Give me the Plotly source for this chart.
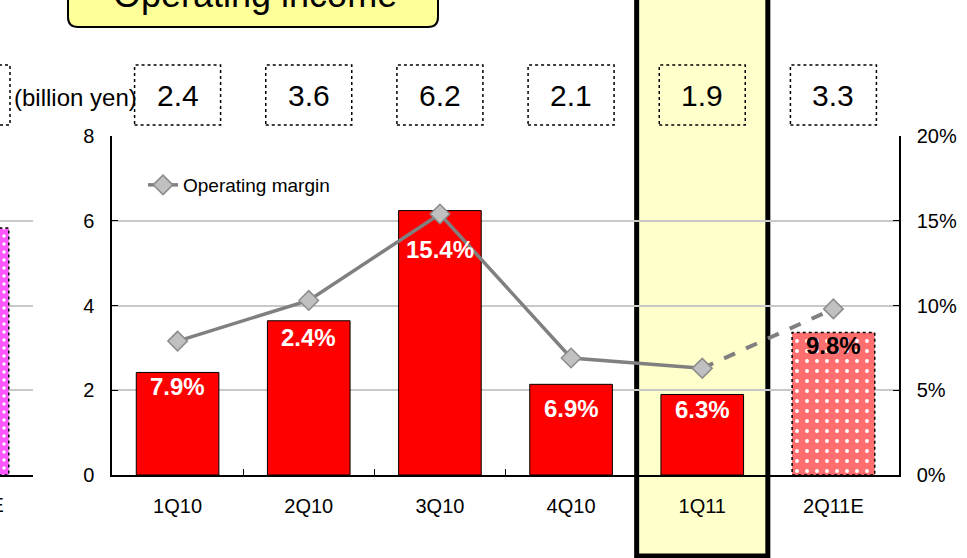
import plotly.graph_objects as go

# ---------------- data ----------------
categories = ["1Q10", "2Q10", "3Q10", "4Q10", "1Q11", "2Q11E"]
income = [2.42, 3.64, 6.24, 2.14, 1.90, 3.36]          # billion yen (bars)
income_labels = ["2.4", "3.6", "6.2", "2.1", "1.9", "3.3"]  # boxed values
margin = [0.079, 0.103, 0.154, 0.069, 0.063, 0.098]     # operating margin
margin_labels = ["7.9%", "2.4%", "15.4%", "6.9%", "6.3%", "9.8%"]
highlight = "1Q11"
estimate = "2Q11E"
prev_fragment_value = 5.83   # neighbouring chart fragment at left edge

W, H = 967, 558
FONT = "Liberation Sans, Arial, sans-serif"

# plot area in pixels
PX_L, PX_R, PY_T, PY_B = 112, 899, 136, 475
n = len(categories)
cw = (PX_R - PX_L) / n
label_drop = [14, 17, 39, 24, 15, 13]   # px from bar top to label centre


def xp(px):
    return px / W


def yp(py):
    return (H - py) / H


def cat_px(i):
    return PX_L + (i + 0.5) * cw


est_i = categories.index(estimate)
hi_i = categories.index(highlight)

fig = go.Figure()

actual_x = [c for c in categories if c != estimate]
actual_y = [v for c, v in zip(categories, income) if c != estimate]
txt_colors = ["white"] * n
txt_colors[est_i] = "black"

# actual results (solid red bars)
fig.add_trace(go.Bar(
    x=actual_x, y=actual_y, width=0.63,
    marker=dict(color="#FF0000", line=dict(color="black", width=1)),
    showlegend=False, xaxis="x", yaxis="y", hoverinfo="skip",
))
# estimate (patterned bar)
fig.add_trace(go.Bar(
    x=[estimate], y=[income[est_i]], width=0.63,
    marker=dict(color="#FF6E6E", line=dict(width=0),
                pattern=dict(shape=".", fgcolor="#FFFFFF", bgcolor="#FF6E6E",
                             size=10, solidity=0.12, fillmode="replace")),
    showlegend=False, xaxis="x", yaxis="y", hoverinfo="skip",
))

# operating margin line (solid actuals, dashed estimate)
fig.add_trace(go.Scatter(
    x=categories[:est_i], y=margin[:est_i], mode="lines+markers",
    name="Operating margin",
    line=dict(color="#808080", width=3.5),
    marker=dict(symbol="diamond", size=15, color="#C0C0C0",
                line=dict(color="#8C8C8C", width=1.5)),
    xaxis="x", yaxis="y3",
))
fig.add_trace(go.Scatter(
    x=categories[est_i - 1:], y=margin[est_i - 1:], mode="lines+markers",
    line=dict(color="#808080", width=4, dash="dash"),
    marker=dict(symbol="diamond", size=15, color="#C0C0C0",
                line=dict(color="#8C8C8C", width=1.5)),
    showlegend=False, xaxis="x", yaxis="y3",
))

# fragment of the neighbouring chart on the left edge
fig.add_trace(go.Bar(
    x=[0], y=[prev_fragment_value], width=0.63,
    marker=dict(color="#FF55FF", line=dict(width=0),
                pattern=dict(shape=".", fgcolor="#FFFFFF", bgcolor="#FF55FF",
                             size=8, solidity=0.15, fillmode="replace")),
    showlegend=False, xaxis="x2", yaxis="y2", hoverinfo="skip",
))

shapes = []
# highlighted column
shapes.append(dict(type="rect", xref="paper", yref="paper",
                   x0=xp(cat_px(hi_i) - cw / 2), x1=xp(cat_px(hi_i) + cw / 2),
                   y0=yp(556), y1=yp(-10),
                   fillcolor="#FFFFCC", line=dict(color="black", width=5),
                   layer="below"))
# dotted boxes with values
for i in range(n):
    c = cat_px(i)
    shapes.append(dict(type="rect", xref="paper", yref="paper",
                       x0=xp(c - 43), x1=xp(c + 43), y0=yp(125), y1=yp(65),
                       line=dict(color="black", width=1.5, dash="dot")))
# fragment box on the left
shapes.append(dict(type="rect", xref="paper", yref="paper",
                   x0=xp(-30), x1=xp(10), y0=yp(125), y1=yp(65),
                   line=dict(color="black", width=1.5, dash="dot")))
# dotted outline of the estimate bar
shapes.append(dict(type="rect", xref="x", yref="y",
                   x0=est_i - 0.315, x1=est_i + 0.315, y0=0, y1=income[est_i],
                   line=dict(color="black", width=1.5, dash="dot")))
# dotted outline of fragment bar
shapes.append(dict(type="rect", xref="x2", yref="y2",
                   x0=-0.315, x1=0.315, y0=0, y1=prev_fragment_value,
                   line=dict(color="black", width=1.5, dash="dot")))
# title rounded box
x0, x1, y0, y1 = xp(68), xp(438), yp(27), yp(-20)
rx, ry = 10 / W, 10 / H
path = (f"M {x0+rx},{y0} L {x1-rx},{y0} Q {x1},{y0} {x1},{y0+ry} "
        f"L {x1},{y1} L {x0},{y1} L {x0},{y0+ry} Q {x0},{y0} {x0+rx},{y0} Z")
shapes.append(dict(type="path", xref="paper", yref="paper", path=path,
                   fillcolor="#FFFF99", line=dict(color="black", width=2)))

annotations = []
annotations.append(dict(text="Operating income", xref="paper", yref="paper",
                        x=xp(255), y=yp(-6), xanchor="center", yanchor="middle",
                        showarrow=False, font=dict(family=FONT, size=36, color="black")))
for i in range(n):
    annotations.append(dict(text=income_labels[i], xref="paper", yref="paper",
                            x=xp(cat_px(i)), y=yp(96), xanchor="center", yanchor="middle",
                            showarrow=False, font=dict(family=FONT, size=30, color="black")))
    # margin labels inside the bars
    annotations.append(dict(text=margin_labels[i], xref="x", yref="y",
                            x=categories[i], y=income[i], yanchor="middle",
                            yshift=-label_drop[i], showarrow=False,
                            font=dict(family=FONT, size=24, color=txt_colors[i],
                                      weight="bold")))
annotations.append(dict(text="(billion yen)", xref="paper", yref="paper",
                        x=xp(139), y=yp(97), xanchor="right", yanchor="middle",
                        showarrow=False, font=dict(family=FONT, size=24, color="black")))
annotations.append(dict(text="2Q11E", xref="paper", yref="paper",
                        x=xp(6), y=yp(505), xanchor="right", yanchor="middle",
                        showarrow=False, font=dict(family=FONT, size=20, color="black")))

dom_y = [yp(PY_B), yp(PY_T)]
fig.update_layout(
    width=W, height=H,
    margin=dict(l=0, r=0, t=0, b=0, autoexpand=False),
    paper_bgcolor="white", plot_bgcolor="rgba(0,0,0,0)",
    font=dict(family=FONT, size=20, color="black"),
    shapes=shapes, annotations=annotations,
    xaxis=dict(domain=[xp(PX_L), xp(PX_R)], anchor="y", type="category",
               categoryorder="array", categoryarray=categories,
               range=[-0.5, n - 0.5], showline=True, linecolor="black", linewidth=1.5,
               ticks="inside", tickson="boundaries", ticklen=6, tickcolor="black",
               showgrid=False, tickfont=dict(size=20), ticklabelstandoff=12,
               automargin=False),
    yaxis=dict(domain=dom_y, anchor="x", range=[0, 8], dtick=2,
               showline=True, linecolor="black", linewidth=1.5,
               ticks="inside", ticklen=6, tickcolor="black",
               gridcolor="#C8C8C8", gridwidth=1.5, zeroline=False,
               tickfont=dict(size=20), ticklabelstandoff=12, automargin=False),
    yaxis3=dict(overlaying="y", anchor="x", side="right", range=[0, 0.2],
                dtick=0.05, tickformat=".0%", showline=True, linecolor="black",
                linewidth=1.5, ticks="inside", ticklen=6, tickcolor="black",
                showgrid=False, zeroline=False, tickfont=dict(size=20),
                ticklabelstandoff=12, automargin=False),
    xaxis2=dict(domain=[0, xp(33)], anchor="y2", range=[0.248, 0.5],
                showline=True, linecolor="black", linewidth=1.5,
                ticks="inside", tickvals=[0.5], ticklen=7, tickcolor="black",
                showticklabels=False, showgrid=False, zeroline=False,
                automargin=False),
    yaxis2=dict(domain=dom_y, anchor="x2", range=[0, 8], dtick=2,
                showticklabels=False, gridcolor="#C8C8C8", gridwidth=1.5,
                zeroline=False, showline=False, ticks="", automargin=False),
    legend=dict(x=xp(143), y=yp(166), xanchor="left", yanchor="top",
                bgcolor="rgba(0,0,0,0)", font=dict(size=19)),
    barmode="overlay",
)

fig.write_html("out.html", config={"displayModeBar": False},
               post_script="document.body.style.margin='0';")
